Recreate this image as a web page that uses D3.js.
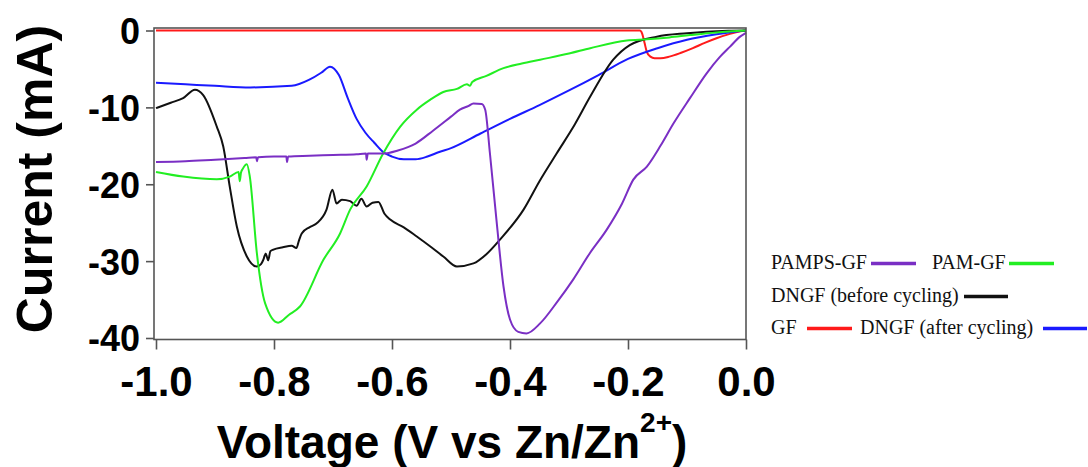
<!DOCTYPE html>
<html>
<head>
<meta charset="utf-8">
<script src="https://cdn.jsdelivr.net/npm/d3@7"></script>
<style>
  body { margin: 0; background: #fff; }
  svg { display: block; }
</style>
</head>
<body>
<script>
const width = 1088;
const height = 467;

// GF
const gfV = [-1.0, -0.5, -0.18, -0.176, -0.172, -0.168, -0.162, -0.155, -0.145, -0.13, -0.11, -0.09, -0.07, -0.05, -0.03, -0.01, 0.0];
const gfI = [0, 0, 0, -0.4, -1.6, -2.8, -3.4, -3.6, -3.6, -3.4, -2.9, -2.3, -1.6, -1.0, -0.5, -0.1, 0];

// DNGF (after cycling)
const afterV = [-1.0, -0.95, -0.9, -0.84, -0.77, -0.74, -0.72, -0.705, -0.69, -0.675, -0.66, -0.645, -0.63, -0.615, -0.6, -0.58, -0.56, -0.54, -0.52, -0.5, -0.45, -0.4, -0.35, -0.3, -0.25, -0.2, -0.15, -0.1, -0.05, 0];
const afterI = [-6.8, -7.0, -7.2, -7.4, -7.2, -6.4, -5.5, -4.7, -5.8, -8.8, -11.5, -13.3, -14.6, -15.8, -16.4, -16.75, -16.75, -16.4, -15.8, -15.3, -13.4, -11.5, -9.7, -7.8, -5.8, -3.7, -2.3, -1.2, -0.5, 0];

// PAMPS-GF
const pampsV = [-1.0, -0.95, -0.9, -0.85, -0.83, -0.829, -0.827, -0.8, -0.779, -0.778, -0.776, -0.74, -0.7, -0.66, -0.644, -0.643, -0.641, -0.615, -0.59, -0.56, -0.53, -0.5, -0.485, -0.47, -0.462, -0.448, -0.442, -0.434, -0.423, -0.411, -0.4, -0.386, -0.372, -0.349, -0.32, -0.293, -0.265, -0.236, -0.21, -0.191, -0.168, -0.145, -0.123, -0.095, -0.067, -0.045, -0.027, -0.01, 0];
const pampsI = [-17.1, -17.0, -16.8, -16.6, -16.5, -17.0, -16.5, -16.4, -16.4, -17.1, -16.4, -16.3, -16.2, -16.1, -16.0, -16.8, -16.0, -16.0, -15.6, -14.7, -13.0, -11.2, -10.3, -9.8, -9.5, -9.55, -10.3, -16.0, -24.6, -33.3, -37.6, -39.2, -39.4, -38.1, -35.3, -32.4, -29.0, -25.9, -22.5, -19.4, -17.7, -15.0, -12.1, -8.8, -5.6, -3.5, -2.1, -0.8, -0.3];

// PAM-GF
const pamV = [-1.0, -0.954, -0.897, -0.875, -0.86, -0.858, -0.856, -0.853, -0.846, -0.841, -0.829, -0.815, -0.793, -0.775, -0.756, -0.716, -0.688, -0.671, -0.643, -0.615, -0.586, -0.558, -0.535, -0.513, -0.49, -0.473, -0.468, -0.464, -0.44, -0.411, -0.38, -0.349, -0.3, -0.264, -0.202, -0.168, -0.13, -0.095, -0.05, 0];
const pamI = [-18.4, -19.0, -19.35, -19.0, -18.4, -19.6, -18.5, -18.0, -17.4, -19.0, -29.0, -35.5, -38.0, -37.0, -35.9, -29.8, -26.4, -23.3, -20.3, -16.0, -12.5, -10.3, -9.0, -8.0, -7.6, -7.0, -7.2, -6.7, -5.9, -4.9, -4.3, -3.8, -3.0, -2.3, -1.3, -1.15, -0.9, -0.6, -0.25, 0];

// DNGF (before cycling)
const beforeV = [-1.0, -0.975, -0.954, -0.934, -0.92, -0.897, -0.886, -0.875, -0.863, -0.846, -0.829, -0.822, -0.818, -0.814, -0.81, -0.806, -0.801, -0.785, -0.77, -0.762, -0.758, -0.753, -0.74, -0.728, -0.711, -0.701, -0.694, -0.685, -0.671, -0.66, -0.652, -0.643, -0.633, -0.623, -0.613, -0.603, -0.58, -0.558, -0.535, -0.513, -0.49, -0.462, -0.44, -0.417, -0.377, -0.35, -0.321, -0.29, -0.264, -0.225, -0.197, -0.151, -0.1, -0.067, -0.03, 0];
const beforeI = [-10.1, -9.4, -8.8, -7.7, -8.4, -12.5, -15.1, -20.3, -25.5, -29.4, -30.7, -30.4, -29.8, -29.0, -29.9, -28.7, -28.5, -28.2, -28.0, -28.3, -27.4, -26.4, -25.6, -25.1, -23.3, -20.7, -22.5, -22.0, -22.2, -22.8, -21.9, -22.9, -22.4, -22.3, -23.8, -24.6, -25.6, -26.8, -28.1, -29.4, -30.7, -30.3, -29.1, -27.2, -23.3, -19.6, -16.0, -12.2, -8.6, -3.8, -1.9, -0.8, -0.35, -0.15, -0.03, 0];

const series = [
  {name: "GF", V: gfV, I: gfI, color: "#ff1a1a"},
  {name: "DNGF (after cycling)", V: afterV, I: afterI, color: "#1a1aff"},
  {name: "DNGF (before cycling)", V: beforeV, I: beforeI, color: "#111111"},
  {name: "PAM-GF", V: pamV, I: pamI, color: "#22ee22"},
  {name: "PAMPS-GF", V: pampsV, I: pampsI, color: "#7a2fc4"}
];

const xTicks = [-1.0, -0.8, -0.6, -0.4, -0.2, 0.0];
const yTicks = [0, -10, -20, -30, -40];

const svg = d3.select("body").append("svg")
  .attr("width", width)
  .attr("height", height);

const x = d3.scaleLinear().domain([-1, 0]).range([156, 746]);
const y = d3.scaleLinear().domain([-40, 0]).range([338, 30.5]);

const frameTop = 28, frameBottom = 339.5, frameLeft = 154, frameRight = 746;

// curves
const line = d3.line()
  .x(d => x(d[0]))
  .y(d => y(d[1]))
  .curve(d3.curveMonotoneX);

svg.append("g")
  .selectAll("path")
  .data(series)
  .join("path")
    .attr("d", s => line(s.V.map((v, i) => [v, s.I[i]])))
    .attr("fill", "none")
    .attr("stroke", s => s.color)
    .attr("stroke-width", 2)
    .attr("stroke-linejoin", "round");

// frame
svg.append("rect")
  .attr("x", frameLeft)
  .attr("y", frameTop)
  .attr("width", frameRight - frameLeft)
  .attr("height", frameBottom - frameTop)
  .attr("fill", "none")
  .attr("stroke", "#555")
  .attr("stroke-width", 1.6);

// x axis
const gx = svg.append("g")
  .attr("transform", `translate(0,${frameBottom})`)
  .call(d3.axisBottom(x).tickValues(xTicks).tickSize(10).tickFormat(d3.format(".1f")));
gx.select(".domain").remove();
gx.selectAll(".tick line").attr("stroke", "#555").attr("stroke-width", 1.6);
gx.selectAll(".tick text")
  .attr("y", 56)
  .attr("dy", 0)
  .attr("fill", "#000")
  .style("font-family", "'Liberation Sans', Arial, sans-serif")
  .style("font-weight", "bold")
  .style("font-size", "42px")
  .text(d => d3.format(".1f")(d).replace("−", "-"));

// y axis
const gy = svg.append("g")
  .attr("transform", `translate(${frameLeft},0)`)
  .call(d3.axisLeft(y).tickValues(yTicks).tickSize(8).tickPadding(6));
gy.select(".domain").remove();
gy.selectAll(".tick line").attr("stroke", "#555").attr("stroke-width", 1.6);
gy.selectAll(".tick text")
  .attr("dy", "0.36em")
  .attr("fill", "#000")
  .style("font-family", "'Liberation Sans', Arial, sans-serif")
  .style("font-weight", "bold")
  .style("font-size", "36px")
  .text(d => String(d).replace("−", "-"));

// axis titles
svg.append("text")
  .attr("transform", "translate(52,179) rotate(-90)")
  .attr("text-anchor", "middle")
  .style("font-family", "'Liberation Sans', Arial, sans-serif")
  .style("font-weight", "bold")
  .style("font-size", "50px")
  .text("Current (mA)");

const xt = svg.append("text")
  .attr("x", 452)
  .attr("y", 458)
  .attr("text-anchor", "middle")
  .style("font-family", "'Liberation Sans', Arial, sans-serif")
  .style("font-weight", "bold")
  .style("font-size", "46px");
xt.append("tspan").text("Voltage (V vs Zn/Zn");
xt.append("tspan").attr("dy", -26).style("font-size", "28px").text("2+");
xt.append("tspan").attr("dy", 26).text(")");

// legend
const legendRows = [
  [{name: "PAMPS-GF", color: "#7a2fc4", tx: 771, x1: 871, x2: 916}, {name: "PAM-GF", color: "#22ee22", tx: 932, x1: 1009, x2: 1054}],
  [{name: "DNGF (before cycling)", color: "#111111", tx: 771, x1: 964, x2: 1008}],
  [{name: "GF", color: "#ff1a1a", tx: 771, x1: 807, x2: 852}, {name: "DNGF (after cycling)", color: "#1a1aff", tx: 860, x1: 1043, x2: 1087}]
];
const rowY = [269, 302, 334];

const legend = svg.append("g");
legendRows.forEach((row, r) => {
  row.forEach(item => {
    legend.append("text")
      .attr("x", item.tx)
      .attr("y", rowY[r])
      .style("font-family", "'Liberation Serif', 'Times New Roman', serif")
      .style("font-size", "20px")
      .attr("fill", "#111")
      .text(item.name);
    legend.append("line")
      .attr("x1", item.x1)
      .attr("x2", item.x2)
      .attr("y1", rowY[r] - 5.5)
      .attr("y2", rowY[r] - 5.5)
      .attr("stroke", item.color)
      .attr("stroke-width", 3.5);
  });
});
</script>
</body>
</html>
